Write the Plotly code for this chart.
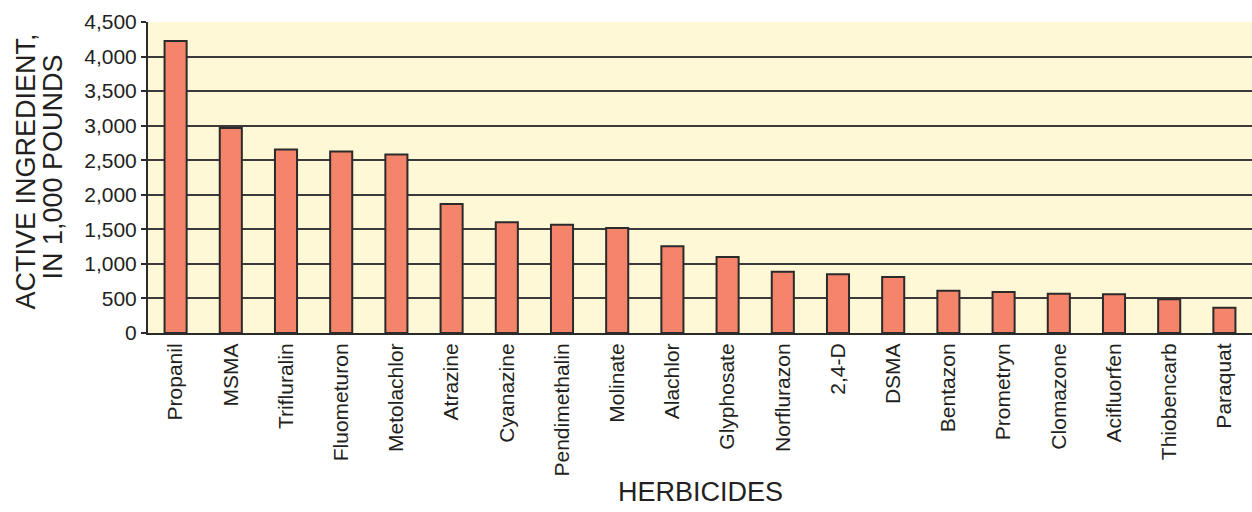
import plotly.graph_objects as go

# ── Data ──────────────────────────────────────────────────────────────────────
herbicides = [
    "Propanil", "MSMA", "Trifluralin", "Fluometuron", "Metolachlor",
    "Atrazine", "Cyanazine", "Pendimethalin", "Molinate", "Alachlor",
    "Glyphosate", "Norflurazon", "2,4-D", "DSMA", "Bentazon",
    "Prometryn", "Clomazone", "Acifluorfen", "Thiobencarb", "Paraquat",
]
pounds_k = [
    4225, 2965, 2655, 2628, 2582,
    1866, 1602, 1565, 1520, 1255,
    1098, 888, 849, 810, 612,
    592, 567, 560, 487, 365,
]
y_ticks = [0, 500, 1000, 1500, 2000, 2500, 3000, 3500, 4000, 4500]

FONT = "Liberation Sans, Arial, sans-serif"
INK = "#2b2b2b"
TXT = "#231f20"

fig = go.Figure(go.Bar(
    x=herbicides,
    y=pounds_k,
    width=0.4,
    marker=dict(color="#F4846A", line=dict(color=INK, width=2)),
))

title_font = dict(size=27, family=FONT, color=TXT)
fig.update_layout(
    width=1252, height=512,
    margin=dict(l=148, r=0, t=22, b=179),
    paper_bgcolor="white",
    plot_bgcolor="#FFF8D6",
    font=dict(family=FONT, color=TXT),
    showlegend=False,
    annotations=[
        dict(text="ACTIVE INGREDIENT,", textangle=-90,
             x=0, y=0.5, xref="paper", yref="paper", xshift=-123, yshift=6,
             xanchor="center", yanchor="middle",
             showarrow=False, font=title_font),
        dict(text="IN 1,000 POUNDS", textangle=-90,
             x=0, y=0.5, xref="paper", yref="paper", xshift=-96, yshift=10,
             xanchor="center", yanchor="middle",
             showarrow=False, font=title_font),
        dict(text="HERBICIDES", x=0.5, y=0, xref="paper", yref="paper",
             xanchor="center", yanchor="middle",
             yshift=-159, showarrow=False, font=title_font),
    ],
)
fig.update_yaxes(
    range=[0, 4500], tickvals=y_ticks, tickformat=",",
    showgrid=True, gridcolor="#3a3a3a", gridwidth=1.5,
    showline=True, linecolor=INK, linewidth=2,
    ticks="outside", ticklen=5, tickcolor=INK, tickwidth=1.5,
    tickfont=dict(size=21, family=FONT, color=TXT),
    zeroline=False, fixedrange=True,
)
fig.update_xaxes(
    tickangle=-90, showline=True, linecolor=INK, linewidth=2,
    showgrid=False, ticks="",
    tickfont=dict(size=21, family=FONT, color=TXT),
    fixedrange=True,
)

fig.write_html("out.html", config={"displayModeBar": False},
               post_script="document.body.style.margin='0';")
